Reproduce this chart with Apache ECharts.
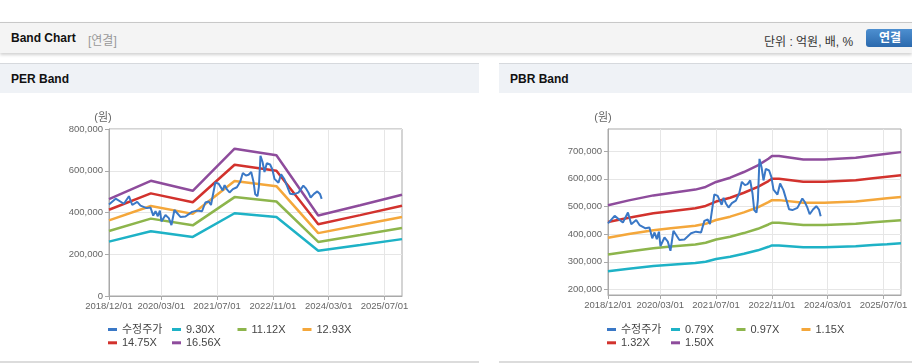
<!DOCTYPE html>
<html><head><meta charset="utf-8">
<script src="https://cdn.jsdelivr.net/npm/echarts@6/dist/echarts.min.js"></script>
<style>
html,body{margin:0;padding:0;width:912px;height:364px;overflow:hidden;background:#fff;font-family:"Liberation Sans","Noto Sans CJK KR",sans-serif;}
.abs{position:absolute;}
#hdr{left:0;top:22px;width:912px;height:30px;background:#f4f4f4;border-top:1px solid #c8c8c8;box-shadow:0 2px 3px rgba(0,0,0,0.18);}
#hdr .t{left:11px;top:8px;font-size:12px;font-weight:bold;color:#111;}
#hdr .s{left:88px;top:8px;font-size:12px;color:#999;}
#hdr .u{left:764px;top:9px;font-size:12px;color:#333;}
#btn{left:866px;top:6px;width:52px;height:18px;border-radius:3px;background:linear-gradient(#4d8fd0,#2b69ad);color:#fff;font-size:12px;font-weight:bold;text-align:center;line-height:18px;box-sizing:border-box;padding-right:4px;}
.ph{top:63px;height:29px;background:#eff2f6;border-top:1px solid #d6d9dd;}
.ph span{position:absolute;left:11px;top:8px;font-size:12px;font-weight:bold;color:#111;}
.pb{top:361px;height:2px;background:#dcdcdc;}
#chart{left:0;top:0;width:912px;height:364px;}
</style></head>
<body>
<div id="hdr" class="abs"><div class="abs t">Band Chart</div><div class="abs s">[연결]</div><div class="abs u">단위 : 억원, 배, %</div><div id="btn" class="abs">연결</div></div>
<div class="abs ph" style="left:0;width:479px;"><span>PER Band</span></div>
<div class="abs ph" style="left:499px;width:413px;"><span>PBR Band</span></div>
<div class="abs pb" style="left:0;width:479px;"></div>
<div class="abs pb" style="left:499px;width:413px;"></div>
<div id="chart" class="abs"></div>
<script>
// ---- data ----
const xMin = '2018-12-01';
const xMax = '2025-12-01';
const xTickLabels = ['2018/12/01','2020/03/01','2021/07/01','2022/11/01','2024/03/01','2025/07/01'];
const perYTicks = [0, 200000, 400000, 600000, 800000];
const pbrYTicks = [200000, 300000, 400000, 500000, 600000, 700000];

const priceDates = ['2018-12-01','2019-01-28','2019-04-10','2019-05-24','2019-06-22','2019-08-04','2019-09-02','2019-10-25','2019-11-28','2019-12-22','2020-01-11','2020-01-31','2020-02-18','2020-03-03','2020-04-07','2020-05-06','2020-05-29','2020-06-24','2020-08-15','2020-09-28','2020-11-25','2021-01-07','2021-02-20','2021-03-21','2021-04-19','2021-05-09','2021-05-26','2021-06-16','2021-07-15','2021-08-19','2021-09-05','2021-09-25','2021-10-18','2021-11-16','2021-12-21','2022-01-19','2022-02-11','2022-03-10','2022-04-02','2022-04-25','2022-05-15','2022-05-30','2022-06-19','2022-07-01','2022-07-15','2022-08-02','2022-08-19','2022-09-08','2022-10-07','2022-10-27','2022-11-14','2022-12-19','2023-01-11','2023-02-09','2023-03-07','2023-03-30','2023-04-28','2023-06-11','2023-07-24','2023-08-13','2023-09-06','2023-09-26','2023-10-25','2023-11-23','2023-12-16','2023-12-31'];
const priceValues = [438600,466000,442000,478000,436000,451000,433000,421000,424000,385000,406000,382000,409000,357000,388000,373000,340000,412000,379000,381000,403000,409000,406000,448000,453000,436000,441000,544000,538000,506000,531000,511000,496000,512000,521000,547000,589000,577000,581000,594000,547000,487000,478000,523000,672000,642000,594000,636000,630000,606000,561000,543000,583000,559000,523000,490000,487000,495000,529000,517000,496000,472000,489000,501000,489000,465000];

const perBandDates = ['2018-12-01','2019-12-01','2020-12-01','2021-12-01','2022-12-01','2023-12-01','2024-12-01','2025-12-01'];
const per930  = [260600,310000,283000,396300,378500,216700,244300,272400];
const per1112 = [311600,370700,338400,473800,452600,259100,292100,325700];
const per1293 = [362300,431000,393500,550900,526300,301300,339700,378700];
const per1475 = [413300,491700,448900,628500,600300,343700,387500,432000];
const per1656 = [464000,552000,504000,705600,674000,385800,435000,485000];

const pbrBandDates = ['2018-12-01','2019-06-01','2020-01-01','2020-06-01','2021-01-01','2021-04-01','2021-07-01','2021-11-01','2022-03-01','2022-07-01','2022-10-01','2022-11-01','2023-01-01','2023-08-01','2024-02-01','2024-11-01','2025-04-01','2025-08-01','2025-12-01'];
const pbr079 = [265800,274900,284400,289100,295500,300400,309900,318100,328900,341500,354200,359200,359200,352900,352900,356100,360500,363600,366800];
const pbr097 = [326300,337600,349200,355000,362800,368900,380500,390600,403800,419300,434900,441100,441100,433300,433300,437200,442600,446500,450400];
const pbr115 = [386900,400200,414000,420900,430100,437300,451100,463100,478700,497100,515500,522900,522900,513700,513700,518300,524700,529300,533900];
const pbr132 = [444000,459400,475200,483100,493700,502000,517800,531600,549500,570600,591800,600200,600200,589600,589600,594900,602300,607600,612900];
const pbr150 = [504600,522000,540000,549000,561000,570500,588500,604000,624500,648500,672400,682000,682000,670000,670000,676000,684400,690400,696400];

const perNames = ['9.30X','11.12X','12.93X','14.75X','16.56X'];
const pbrNames = ['0.79X','0.97X','1.15X','1.32X','1.50X'];
const priceName = '수정주가';

// ---- helpers ----
function ts(s){const p=s.split(/[-\/]/).map(Number);return Date.UTC(p[0],p[1]-1,p[2]);}
function pairs(d,v){return d.map((x,i)=>[ts(x),v[i]]);}
function pad(n){return (n<10?'0':'')+n;}
function fmtDate(v){const d=new Date(v);return d.getUTCFullYear()+'/'+pad(d.getUTCMonth()+1)+'/'+pad(d.getUTCDate());}
const xTicks = xTickLabels.map(ts);
const FONT = '"Liberation Sans","Noto Sans CJK KR",sans-serif';
const AX = '#a9a9a9', GRIDC = '#e6e6e6', LBL = '#666';
const bandColors = ['#1eb2c6','#8db54c','#f4a73b','#d2322d','#8e4c9c'];
const priceColor = '#3a78c6';

function makeX(g){
  return {type:'value', gridIndex:g, min:ts(xMin), max:ts(xMax),
    axisLine:{show:true,lineStyle:{color:AX}},
    axisTick:{show:true,length:4,customValues:xTicks,lineStyle:{color:AX}},
    axisLabel:{customValues:xTicks,formatter:v=>fmtDate(v),fontSize:9.5,color:LBL,margin:6,fontFamily:FONT,hideOverlap:false},
    splitLine:{show:true,lineStyle:{color:GRIDC}}};
}
function makeY(g, ticks, min, max, nameShift){
  return {type:'value', gridIndex:g, min:min, max:max,
    name:'(원)', nameLocation:'end', nameGap:6,
    nameTextStyle:{color:LBL,fontSize:11,fontFamily:FONT,padding:[0,nameShift,0,0]},
    axisLine:{show:true,lineStyle:{color:AX}},
    axisTick:{show:true,length:4,customValues:ticks,lineStyle:{color:AX}},
    axisLabel:{customValues:ticks,formatter:v=>v.toLocaleString('en-US'),fontSize:9.5,color:LBL,margin:6,fontFamily:FONT},
    splitLine:{show:true,lineStyle:{color:GRIDC}}};
}
const series = [];
function addChart(g, bandDates, bands, names){
  bands.forEach((b,i)=>series.push({name:names[i],type:'line',xAxisIndex:g,yAxisIndex:g,data:pairs(bandDates,b),
    showSymbol:false,symbol:'none',color:bandColors[i],lineStyle:{width:2.5,color:bandColors[i]},z:2}));
  series.push({name:priceName,type:'line',xAxisIndex:g,yAxisIndex:g,data:pairs(priceDates,priceValues),
    showSymbol:false,symbol:'none',color:priceColor,lineStyle:{width:2,color:priceColor},z:3});
}
addChart(0,perBandDates,[per930,per1112,per1293,per1475,per1656],perNames);
addChart(1,pbrBandDates,[pbr079,pbr097,pbr115,pbr132,pbr150],pbrNames);

const legends = [];
function addLegends(x0, names){
  const items = [priceName].concat(names);
  const cols = [0, 64, 129.5, 194.5];
  items.forEach((n,i)=>{
    const r = Math.floor(i/4), c = i%4;
    legends.push({data:[n], left:x0+cols[c], top:324+r*13.3, padding:0, itemWidth:9, itemHeight:3, icon:'rect',
      selectedMode:false, textStyle:{fontSize:11,color:'#444',fontFamily:FONT}});
  });
}
addLegends(108, perNames);
addLegends(607, pbrNames);

const chart = echarts.init(document.getElementById('chart'), null, {renderer:'canvas'});
chart.setOption({
  animation:false,
  grid:[
    {left:109,top:129,width:293,height:167,show:true,borderColor:AX,borderWidth:1,backgroundColor:'transparent'},
    {left:608,top:129,width:293,height:166,show:true,borderColor:AX,borderWidth:1,backgroundColor:'transparent'}
  ],
  xAxis:[makeX(0),makeX(1)],
  yAxis:[makeY(0,perYTicks,0,800000,12), makeY(1,pbrYTicks,180000,780000,10)],
  legend:legends,
  series:series
});
</script>
</body></html>
